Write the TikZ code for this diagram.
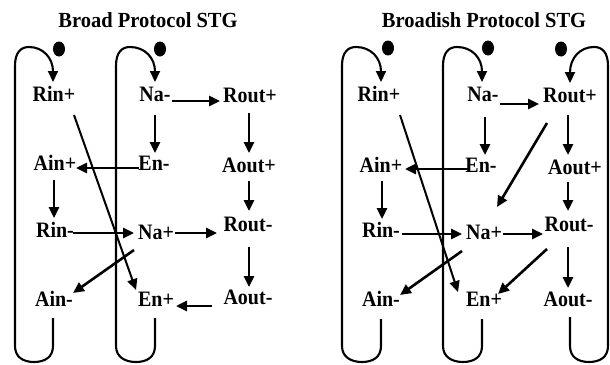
\documentclass[tikz,border=0pt]{standalone}
\usepackage{fontspec}
\setmainfont{Liberation Serif}
\usetikzlibrary{calc,arrows.meta,shapes.geometric}
\newcommand\stglbl[1]{\scalebox{1}[1.1]{#1}}
\begin{document}
\begin{tikzpicture}[x=1pt,y=-1pt,
  lbl/.style={inner sep=0pt, font=\fontsize{20}{20}\selectfont\bfseries},
  ttl/.style={inner sep=0pt, font=\fontsize{20.5}{21}\selectfont\bfseries},
  arr/.style={line width=2.6pt, -{Triangle[length=11pt,width=10pt]}},
  looparr/.style={line width=2.1pt, -{Triangle[length=11pt,width=10pt]}},
  token/.style={ellipse, fill=black, draw=none, inner sep=0pt, minimum width=12pt, minimum height=15pt}]
\useasboundingbox (0,0) rectangle (610,364);

% ---------- titles ----------
\node[ttl] (t1) at (148,20) {\scalebox{1}[1.05]{Broad Protocol STG}};
\node[ttl] (t2) at (484,20) {\scalebox{1}[1.05]{Broadish Protocol STG}};

% ---------- left diagram nodes ----------
\node[lbl] (Rinp)  at (54,94)   {\stglbl{Rin+}};
\node[lbl] (Nam)   at (155,94)  {\stglbl{Na-}};
\node[lbl] (Routp) at (250,95)  {\stglbl{Rout+}};
\node[lbl] (Ainp)  at (55,163)  {\stglbl{Ain+}};
\node[lbl] (Enm)   at (154,163) {\stglbl{En-}};
\node[lbl] (Aoutp) at (249,165) {\stglbl{Aout+}};
\node[lbl] (Rinm)  at (55,230)  {\stglbl{Rin-}};
\node[lbl] (Nap)   at (156,232) {\stglbl{Na+}};
\node[lbl] (Routm) at (248,224) {\stglbl{Rout-}};
\node[lbl] (Ainm)  at (54,299)  {\stglbl{Ain-}};
\node[lbl] (Enp)   at (156,299) {\stglbl{En+}};
\node[lbl] (Aoutm) at (248,297) {\stglbl{Aout-}};

% ---------- right diagram nodes ----------
\node[lbl] (Rinp2)  at (379,94)  {\stglbl{Rin+}};
\node[lbl] (Nam2)   at (483,94)  {\stglbl{Na-}};
\node[lbl] (Routp2) at (570,95)  {\stglbl{Rout+}};
\node[lbl] (Ainp2)  at (381,165) {\stglbl{Ain+}};
\node[lbl] (Enm2)   at (481,165) {\stglbl{En-}};
\node[lbl] (Aoutp2) at (575,167) {\stglbl{Aout+}};
\node[lbl] (Rinm2)  at (381,230) {\stglbl{Rin-}};
\node[lbl] (Nap2)   at (484,232) {\stglbl{Na+}};
\node[lbl] (Routm2) at (569,224) {\stglbl{Rout-}};
\node[lbl] (Ainm2)  at (381,299) {\stglbl{Ain-}};
\node[lbl] (Enp2)   at (484,299) {\stglbl{En+}};
\node[lbl] (Aoutm2) at (568,299) {\stglbl{Aout-}};

% ---------- tokens ----------
\node[token] (k1) at (59,49)  {};
\node[token] (k2) at (160,49) {};
\node[token] (k3) at (388,48) {};
\node[token] (k4) at (488,48) {};
\node[token] (k5) at (561,49) {};

% ---------- left loops ----------
\draw[looparr] ($(Ainm)+(-1,19)$) -- (53,346) .. controls (53,357) and (45,362) .. (34,362)
  .. controls (23,362) and (15,357) .. (15,346) -- (15,66)
  .. controls (15,52) and (21,47) .. (29,47) .. controls (43,47) and (53,58) .. ($(Rinp)+(-1,-12)$);
\draw[looparr] ($(Enp)+(-1,19)$) -- (155,346) .. controls (155,357) and (147,362) .. (136,362)
  .. controls (125,362) and (116,357) .. (116,346) -- (116,66)
  .. controls (116,52) and (122,47) .. (130,47) .. controls (145,47) and (155,58) .. ($(Nam)+(0,-12)$);

% ---------- right loops ----------
\draw[looparr] ($(Ainm2)+(0,20)$) -- (381,346) .. controls (381,357) and (373,362) .. (362,362)
  .. controls (351,362) and (342,357) .. (342,346) -- (342,66)
  .. controls (342,52) and (348,47) .. (356,47) .. controls (371,47) and (381,58) .. ($(Rinp2)+(2,-12)$);
\draw[looparr] ($(Enp2)+(-2,20)$) -- (482,346) .. controls (482,357) and (474,362) .. (463,362)
  .. controls (452,362) and (443,357) .. (443,346) -- (443,66)
  .. controls (443,52) and (449,47) .. (457,47) .. controls (472,47) and (482,58) .. ($(Nam2)+(-1,-12)$);
\draw[looparr] ($(Aoutm2)+(2,18)$) -- (570,346) .. controls (570,357) and (578,362) .. (589,362)
  .. controls (600,362) and (608,357) .. (608,346) -- (608,66)
  .. controls (608,52) and (602,47) .. (594,47) .. controls (580,47) and (570,58) .. ($(Routp2)+(0,-12)$);

% ---------- left arrows ----------
\draw[arr] ($(Nam)+(17,7)$) -- ($(Routp)+(-30,6)$);
\draw[arr] ($(Nam)+(0,21)$) -- ($(Enm)+(1,-10)$);
\draw[arr] ($(Routp)+(-1,18)$) -- ($(Aoutp)+(0,-12)$);
\draw[arr] ($(Enm)+(-15,5)$) -- ($(Ainp)+(21,5)$);
\draw[arr, line width=2pt] ($(Rinp)+(20,21)$) -- ($(Enp)+(-20,-9)$);
\draw[arr] ($(Ainp)+(-1,17)$) -- ($(Rinm)+(-1,-12)$);
\draw[arr] ($(Rinm)+(18,3)$) -- ($(Nap)+(-22,1)$);
\draw[arr] ($(Nap)+(19,1)$) -- ($(Routm)+(-31,9)$);
\draw[arr] ($(Aoutp)+(0,16)$) -- ($(Routm)+(1,-13)$);
\draw[arr] ($(Routm)+(1,23)$) -- ($(Aoutm)+(1,-10)$);
\draw[arr] ($(Nap)+(-22,18)$) -- ($(Ainm)+(19,-6)$);
\draw[arr] ($(Aoutm)+(-36,9)$) -- ($(Enp)+(20,7)$);

% ---------- right arrows ----------
\draw[arr] ($(Nam2)+(17,10)$) -- ($(Routp2)+(-31,9)$);
\draw[arr] ($(Nam2)+(2,23)$) -- ($(Enm2)+(4,-10)$);
\draw[arr] ($(Routp2)+(-2,20)$) -- ($(Aoutp2)+(-7,-12)$);
\draw[arr] ($(Enm2)+(-13,4)$) -- ($(Ainp2)+(24,4)$);
\draw[arr, line width=2pt] ($(Rinp2)+(21,21)$) -- ($(Enp2)+(-26,-7)$);
\draw[arr] ($(Routp2)+(-23,28)$) -- ($(Nap2)+(13,-25)$);
\draw[arr] ($(Ainp2)+(1,16)$) -- ($(Rinm2)+(1,-11)$);
\draw[arr] ($(Rinm2)+(21,4)$) -- ($(Nap2)+(-22,2)$);
\draw[arr] ($(Nap2)+(19,2)$) -- ($(Routm2)+(-26,10)$);
\draw[arr] ($(Aoutp2)+(-7,15)$) -- ($(Routm2)+(-1,-13)$);
\draw[arr] ($(Routm2)+(-1,23)$) -- ($(Aoutm2)+(0,-11)$);
\draw[arr] ($(Nap2)+(-22,19)$) -- ($(Ainm2)+(19,-4)$);
\draw[arr] ($(Routm2)+(-22,25)$) -- ($(Enp2)+(14,-5)$);
\end{tikzpicture}
\end{document}
